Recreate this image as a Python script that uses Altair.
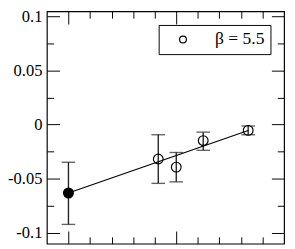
import altair as alt
import pandas as pd

# open circles (beta = 5.5)
x_open = [0.833, 1.0, 1.25, 1.667]
y_open = [-0.0318, -0.0393, -0.0148, -0.0054]
lo_open = [-0.0543, -0.0529, -0.0238, -0.0094]
hi_open = [-0.0094, -0.0258, -0.0070, -0.0013]

# filled (extrapolated) point
x_fill = [0.0]
y_fill = [-0.0632]
lo_fill = [-0.0922]
hi_fill = [-0.0348]

# fit line
x_line = [0.0, 1.667]
y_line = [-0.0632, -0.0055]

series_label = "β = 5.5"

y_major = [-0.1, -0.05, 0, 0.05, 0.1]
y_minor = [-0.075, -0.025, 0.025, 0.075]
x_major = [0, 1]
x_minor = [0.2, 0.4, 0.6, 0.8, 1.2, 1.4, 1.6, 1.8]

FONT = "Liberation Serif"

err = pd.DataFrame({
    "x": x_fill + x_open,
    "lo": lo_fill + lo_open,
    "hi": hi_fill + hi_open,
})
opn = pd.DataFrame({"x": x_open, "y": y_open, "s": [series_label] * len(x_open)})
fil = pd.DataFrame({"x": x_fill, "y": y_fill})
lin = pd.DataFrame({"x": x_line, "y": y_line})

xs = alt.Scale(domain=[-0.2, 2.0], nice=False, zero=False)
ys = alt.Scale(domain=[-0.11, 0.1045], nice=False, zero=False)


def ax(orient, values, size, labels=False, **kw):
    return alt.Axis(orient=orient, values=values, tickSize=size, offset=-size,
                    domain=False, grid=False, labels=labels, ticks=True,
                    tickColor="black", tickWidth=1, title=None, **kw)


MAJ, MIN = 13, 7
ylab = dict(labelFont=FONT, labelFontSize=17, labelColor="black", labelPadding=5,
            labelExpr="datum.value == 0 ? '0' : (datum.value < 0 ? '-' : '') + format(abs(datum.value), '')")

rules = alt.Chart(err).mark_rule(color="#222", strokeWidth=1.4).encode(
    x=alt.X("x:Q", scale=xs, axis=ax("bottom", x_major, MAJ)),
    y=alt.Y("lo:Q", scale=ys, axis=ax("left", y_major, MAJ, labels=True, **ylab)),
    y2="hi:Q",
)
cap_hi = alt.Chart(err).mark_tick(orient="horizontal", size=14, thickness=1.4, color="#222").encode(
    x=alt.X("x:Q", scale=xs, axis=ax("bottom", x_minor, MIN)),
    y=alt.Y("hi:Q", scale=ys, axis=ax("left", y_minor, MIN)),
)
cap_lo = alt.Chart(err).mark_tick(orient="horizontal", size=14, thickness=1.4, color="#222").encode(
    x=alt.X("x:Q", scale=xs, axis=ax("top", x_major, MAJ)),
    y=alt.Y("lo:Q", scale=ys, axis=ax("right", y_major, MAJ)),
)
line = alt.Chart(lin).mark_line(color="black", strokeWidth=1.2).encode(
    x=alt.X("x:Q", scale=xs, axis=ax("top", x_minor, MIN)),
    y=alt.Y("y:Q", scale=ys, axis=ax("right", y_minor, MIN)),
)
pts_open = alt.Chart(opn).mark_point(shape="circle", filled=False, size=100, strokeWidth=1.2, opacity=1).encode(
    x=alt.X("x:Q", scale=xs, axis=None),
    y=alt.Y("y:Q", scale=ys, axis=None),
    color=alt.Color("s:N", scale=alt.Scale(range=["black"]), legend=alt.Legend(
        title=None, orient="none", legendX=115, legendY=14,
        strokeColor="black", fillColor="white", padding=6,
        symbolType="circle", symbolSize=49, symbolStrokeWidth=1.2,
        symbolOffset=10, labelOffset=24,
        labelFont=FONT, labelFontSize=18, labelColor="black",
    )),
)
pts_fill = alt.Chart(fil).mark_point(shape="circle", filled=True, size=128, color="black", opacity=1).encode(
    x=alt.X("x:Q", scale=xs, axis=None),
    y=alt.Y("y:Q", scale=ys, axis=None),
)

chart = alt.layer(rules, cap_hi, cap_lo, line, pts_open, pts_fill).resolve_scale(
    x="independent", y="independent"
).properties(
    width=244, height=239,
    autosize=alt.AutoSizeParams(type="none"),
    padding={"left": 40, "top": 0, "right": 3, "bottom": 2},
).configure_view(stroke="black", strokeWidth=1.2)

chart.save("out.html", embed_options={"renderer": "svg", "actions": False})
